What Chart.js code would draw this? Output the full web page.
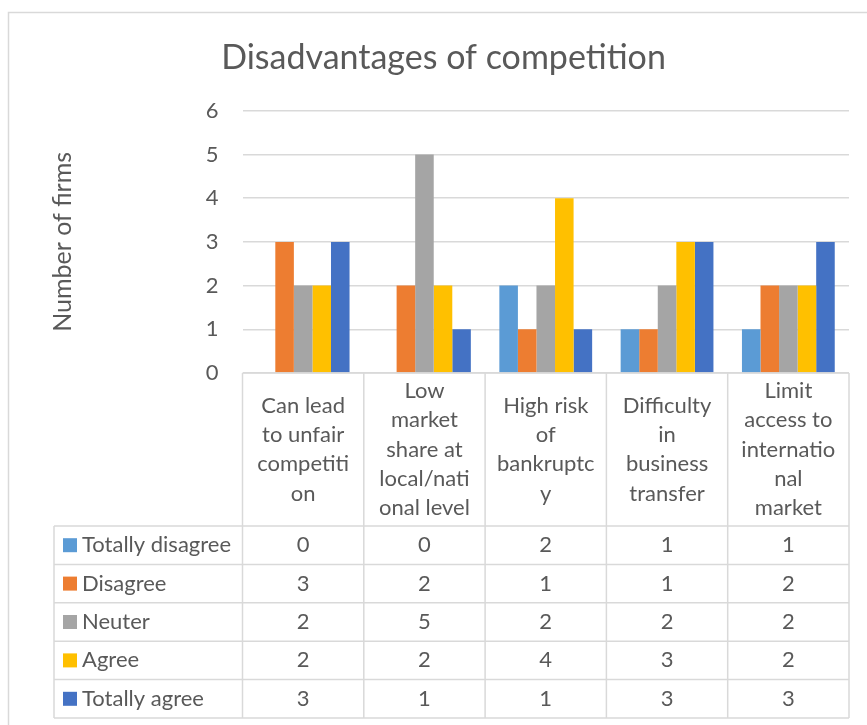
<!DOCTYPE html>
<html>
<head>
<meta charset="utf-8">
<title>Disadvantages of competition</title>
<script src="https://cdn.jsdelivr.net/npm/chart.js@4.4.1/dist/chart.umd.min.js"></script>
<style>
  html, body { margin: 0; padding: 0; background: #ffffff; }
  canvas { display: block; }
</style>
</head>
<body>
<canvas id="chart" width="867" height="725"></canvas>
<script>
// Categories (wrapped header lines as they appear in the data table)
const categories = [
  ['Can lead', 'to unfair', 'competiti', 'on'],
  ['Low', 'market', 'share at', 'local/nati', 'onal level'],
  ['High risk', 'of', 'bankruptc', 'y'],
  ['Difficulty', 'in', 'business', 'transfer'],
  ['Limit', 'access to', 'internatio', 'nal', 'market']
];

// Series values (number of firms per answer)
const totallyDisagree = [0, 0, 2, 1, 1];
const disagree        = [3, 2, 1, 1, 2];
const neuter          = [2, 5, 2, 2, 2];
const agree           = [2, 2, 4, 3, 2];
const totallyAgree    = [3, 1, 1, 3, 3];

const seriesNames = ['Totally disagree', 'Disagree', 'Neuter', 'Agree', 'Totally agree'];
const seriesValues = [totallyDisagree, disagree, neuter, agree, totallyAgree];
const seriesColors = ['#5B9BD5', '#ED7D31', '#A5A5A5', '#FFC000', '#4472C4'];

// Value axis ticks
const yTicks = [0, 1, 2, 3, 4, 5, 6];

const FONT = 'Lato, "Open Sans", sans-serif';
const TEXT_COLOR = '#595959';
const LINE_COLOR = '#D9D9D9';

// Light frame around the whole chart
const framePlugin = {
  id: 'frame',
  beforeDraw(chart, args, opts) {
    const ctx = chart.ctx;
    ctx.save();
    ctx.fillStyle = '#ffffff';
    ctx.fillRect(0, 0, chart.width, chart.height);
    ctx.strokeStyle = LINE_COLOR;
    ctx.lineWidth = 1.5;
    ctx.strokeRect(opts.left, opts.top, chart.width + 20, chart.height + 20);
    ctx.restore();
  }
};

// Data table under the plot: category headers, legend keys and values
const dataTablePlugin = {
  id: 'dataTable',
  afterDraw(chart, args, opts) {
    const ctx = chart.ctx;
    const xs = chart.scales.x;
    const area = chart.chartArea;
    const labels = chart.data.labels;
    const n = labels.length;
    const step = n > 1 ? xs.getPixelForValue(1) - xs.getPixelForValue(0) : area.right - area.left;
    const centers = labels.map((_, i) => xs.getPixelForValue(i));
    const edges = centers.map(c => c - step / 2).concat([centers[n - 1] + step / 2]);

    const top = area.bottom;
    const rowsTop = top + opts.headerHeight;
    const sets = chart.data.datasets;
    const bottom = rowsTop + opts.rowHeight * sets.length;
    const legendLeft = opts.legendLeft;

    ctx.save();
    // grid of the table
    ctx.strokeStyle = LINE_COLOR;
    ctx.lineWidth = opts.lineWidth;
    ctx.beginPath();
    ctx.moveTo(edges[0], top);
    ctx.lineTo(edges[n], top);
    edges.forEach(ex => { ctx.moveTo(ex, top); ctx.lineTo(ex, bottom); });
    ctx.moveTo(legendLeft, rowsTop);
    ctx.lineTo(legendLeft, bottom);
    for (let r = 0; r <= sets.length; r++) {
      const yy = rowsTop + r * opts.rowHeight;
      ctx.moveTo(legendLeft, yy);
      ctx.lineTo(edges[n], yy);
    }
    ctx.stroke();

    ctx.fillStyle = TEXT_COLOR;
    ctx.font = opts.fontSize + 'px ' + FONT;
    ctx.textBaseline = 'middle';

    // category headers
    ctx.textAlign = 'center';
    labels.forEach((lines, i) => {
      const arr = Array.isArray(lines) ? lines : [lines];
      const mid = top + opts.headerHeight / 2;
      const y0 = mid - (arr.length - 1) * opts.headerLineHeight / 2;
      arr.forEach((t, k) => ctx.fillText(t, centers[i], y0 + k * opts.headerLineHeight));
    });

    // rows: legend key + values
    sets.forEach((ds, r) => {
      const yy = rowsTop + (r + 0.5) * opts.rowHeight;
      ctx.fillStyle = ds.backgroundColor;
      ctx.fillRect(legendLeft + opts.keyOffset, yy - opts.keySize / 2, opts.keySize, opts.keySize);
      ctx.fillStyle = TEXT_COLOR;
      ctx.textAlign = 'left';
      ctx.fillText(ds.label, legendLeft + opts.keyOffset + opts.keySize + 5, yy);
      ctx.textAlign = 'center';
      ds.data.forEach((v, i) => ctx.fillText(String(v), centers[i], yy));
    });
    ctx.restore();
  }
};

const datasets = seriesNames.map((name, i) => ({
  label: name,
  data: seriesValues[i],
  backgroundColor: seriesColors[i],
  borderWidth: 0,
  categoryPercentage: 0.765,
  barPercentage: 1.0
}));

new Chart(document.getElementById('chart'), {
  type: 'bar',
  data: { labels: categories, datasets: datasets },
  options: {
    responsive: false,
    animation: false,
    devicePixelRatio: 1,
    layout: { padding: { left: 38, right: 18, top: 0, bottom: 352 } },
    plugins: {
      legend: { display: false },
      tooltip: { enabled: false },
      title: {
        display: true,
        text: 'Disadvantages of competition',
        color: TEXT_COLOR,
        font: { family: FONT, size: 34, weight: 'normal' },
        padding: { top: 38, bottom: 32 }
      },
      frame: { left: 8.5, top: 12.5 },
      dataTable: {
        headerHeight: 153,
        rowHeight: 38.4,
        headerLineHeight: 29.3,
        legendLeft: 54,
        keyOffset: 9,
        keySize: 14,
        fontSize: 22,
        lineWidth: 1.5
      }
    },
    scales: {
      x: { display: false },
      y: {
        min: 0,
        max: 6,
        afterBuildTicks(scale) { scale.ticks = yTicks.map(v => ({ value: v })); },
        afterFit(scale) { scale.width = 242.5 - 38; },
        border: { display: false },
        grid: { color: LINE_COLOR, lineWidth: 1.5, drawTicks: false },
        ticks: {
          color: TEXT_COLOR,
          font: { family: FONT, size: 22 },
          padding: 24
        },
        title: {
          display: true,
          text: 'Number of firms',
          color: TEXT_COLOR,
          font: { family: FONT, size: 25 },
          padding: { top: 10, bottom: 0 }
        }
      }
    }
  },
  plugins: [framePlugin, dataTablePlugin]
});
</script>
</body>
</html>
